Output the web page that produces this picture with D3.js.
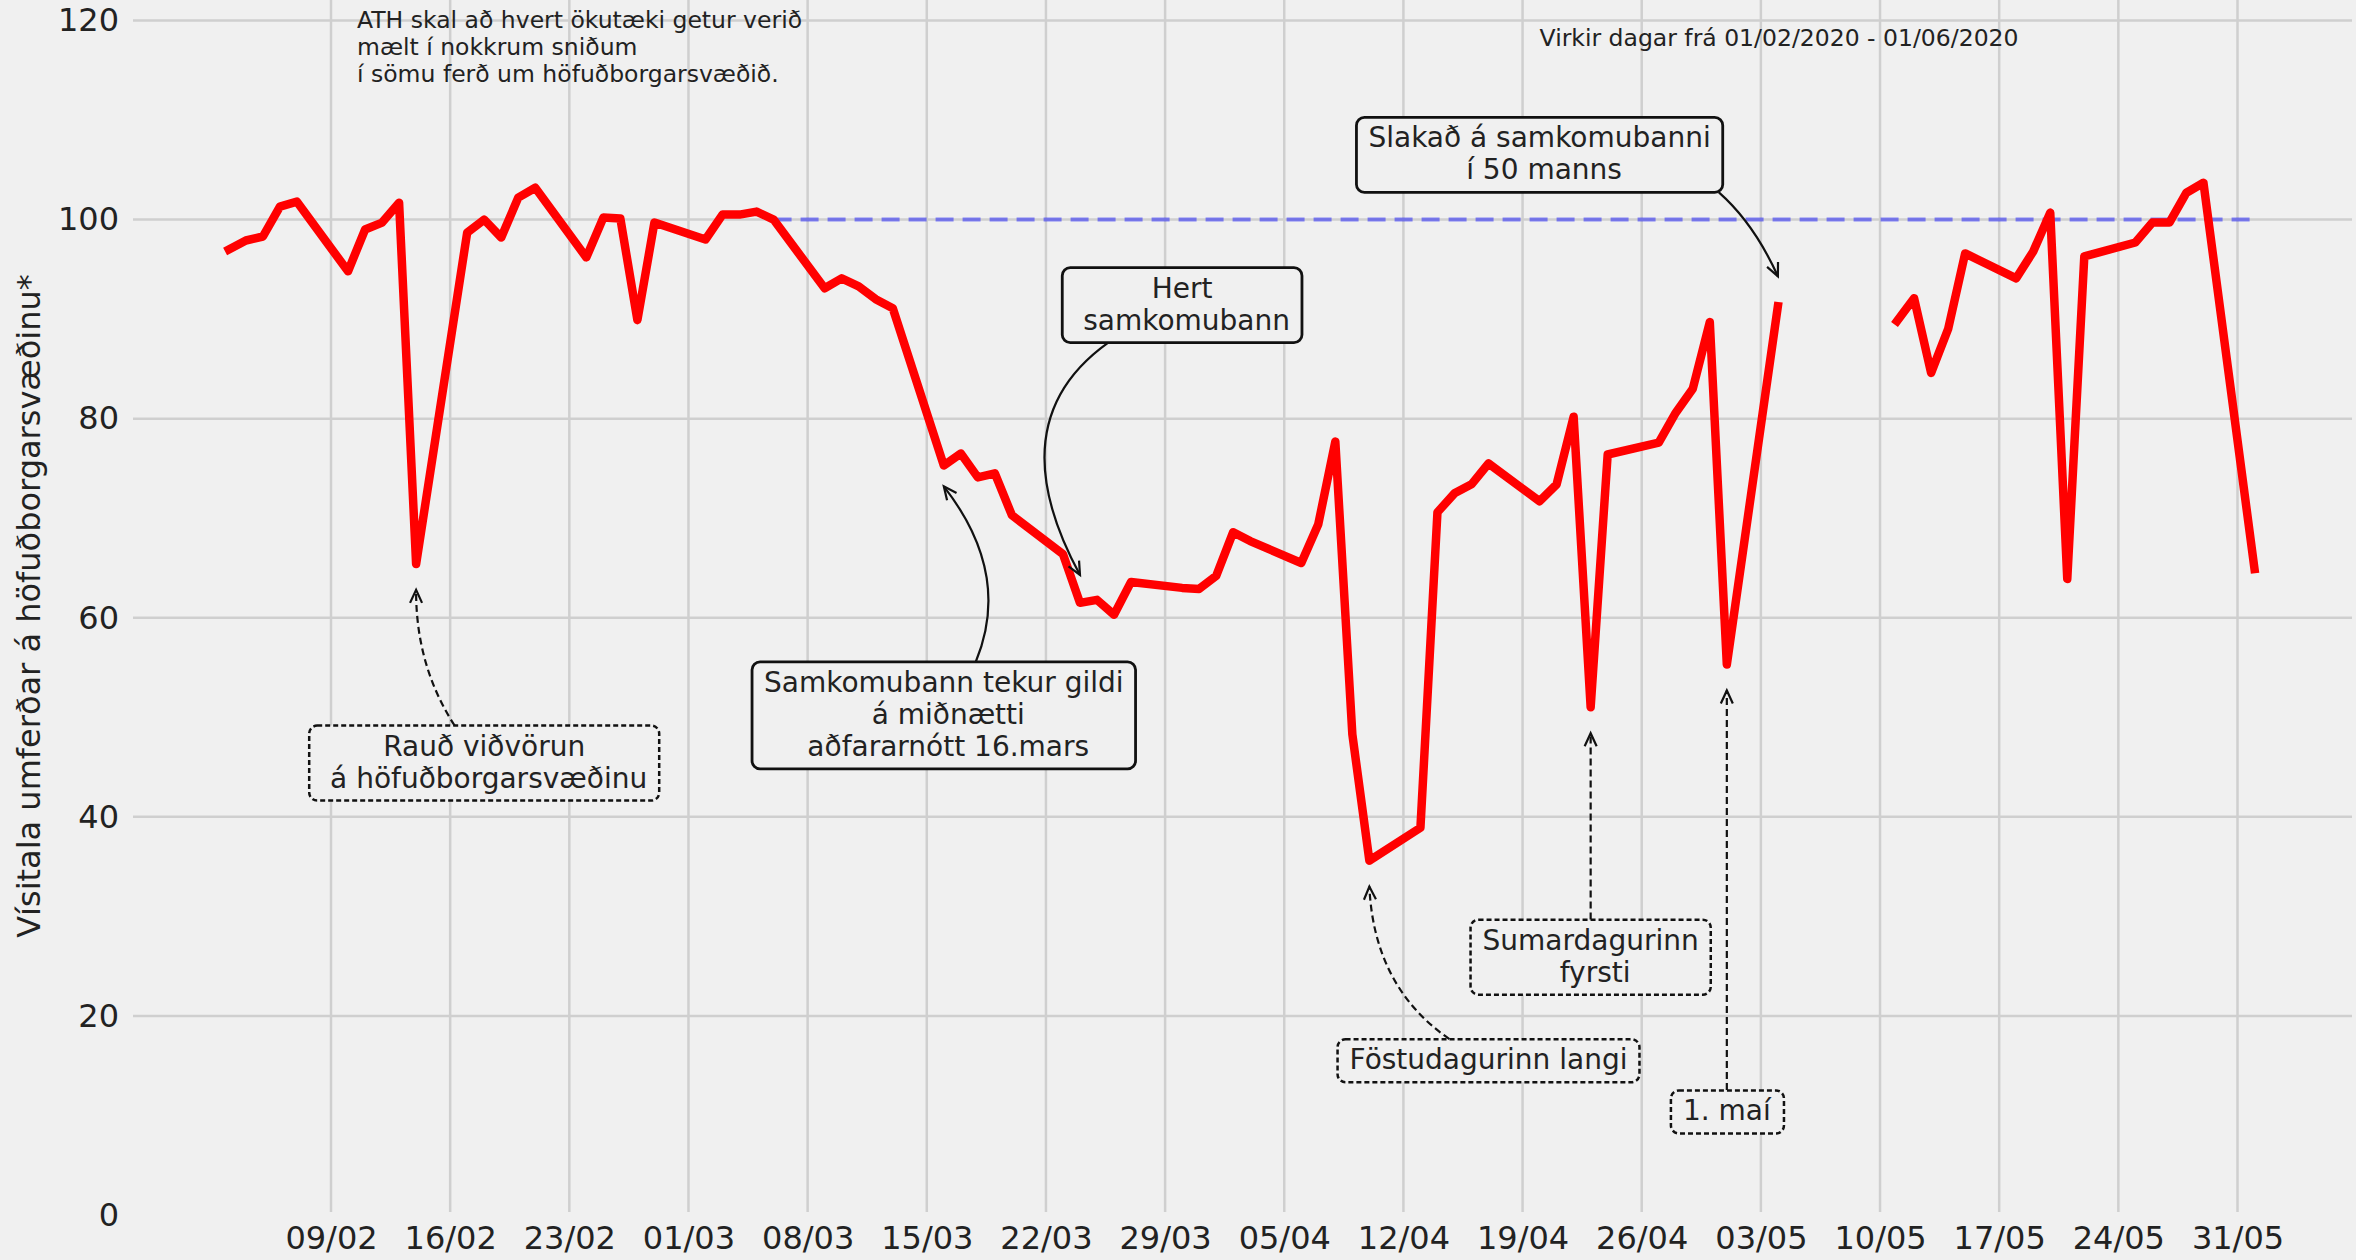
<!DOCTYPE html>
<html><head><meta charset="utf-8">
<script src="https://cdn.jsdelivr.net/npm/d3@7/dist/d3.min.js"></script>
<style>
html,body{margin:0;padding:0;background:#f0f0f0;}
svg{display:block;}
text{font-family:"DejaVu Sans",sans-serif;fill:#222;}
</style></head><body>
<svg id="chart" width="2356" height="1260"></svg>
<script>
// ---- data (weekdays, 2020) ----
const dates = [
 "2020-02-03","2020-02-04","2020-02-05","2020-02-06","2020-02-07",
 "2020-02-10","2020-02-11","2020-02-12","2020-02-13","2020-02-14",
 "2020-02-17","2020-02-18","2020-02-19","2020-02-20","2020-02-21",
 "2020-02-24","2020-02-25","2020-02-26","2020-02-27","2020-02-28",
 "2020-03-02","2020-03-03","2020-03-04","2020-03-05","2020-03-06",
 "2020-03-09","2020-03-10","2020-03-11","2020-03-12","2020-03-13",
 "2020-03-16","2020-03-17","2020-03-18","2020-03-19","2020-03-20",
 "2020-03-23","2020-03-24","2020-03-25","2020-03-26","2020-03-27",
 "2020-03-30","2020-03-31","2020-04-01","2020-04-02","2020-04-03",
 "2020-04-06","2020-04-07","2020-04-08","2020-04-09","2020-04-10",
 "2020-04-13","2020-04-14","2020-04-15","2020-04-16","2020-04-17",
 "2020-04-20","2020-04-21","2020-04-22","2020-04-23","2020-04-24",
 "2020-04-27","2020-04-28","2020-04-29","2020-04-30","2020-05-01",
 "2020-05-04","2020-05-05","2020-05-06","2020-05-07","2020-05-08",
 "2020-05-11","2020-05-12","2020-05-13","2020-05-14","2020-05-15",
 "2020-05-18","2020-05-19","2020-05-20","2020-05-21","2020-05-22",
 "2020-05-25","2020-05-26","2020-05-27","2020-05-28","2020-05-29",
 "2020-06-01"
];
const trafficIndex = [
 97.0, 97.9, 98.3, 101.3, 101.8,
 94.8, 99.0, 99.7, 101.7, 65.4,
 98.7, 100.0, 98.2, 102.2, 103.2,
 96.2, 100.2, 100.1, 89.9, 99.7,
 98.0, 100.5, 100.5, 100.8, 100.0,
 93.1, 94.1, 93.3, 92.0, 91.1,
 75.3, 76.5, 74.1, 74.5, 70.3,
 66.4, 61.5, 61.8, 60.3, 63.6,
 63.0, 62.9, 64.2, 68.6, 67.7,
 65.5, 69.4, 77.7, 48.3, 35.6,
 38.9, 70.6, 72.5, 73.4, 75.5,
 71.7, 73.4, 80.2, 51.0, 76.4,
 77.6, 80.6, 83.0, 89.7, 55.3,
 91.3, null, null, null, null,
 89.8, 92.1, 84.6, 89.0, 96.6,
 94.1, 96.8, 100.7, 63.9, 96.3,
 97.7, 99.7, 99.7, 102.7, 103.7,
 64.9
];
const referenceLevel = 100;
const referenceDates = ["2020-03-06","2020-06-01"];
const xTickDates = ["2020-02-09","2020-02-16","2020-02-23","2020-03-01","2020-03-08","2020-03-15",
 "2020-03-22","2020-03-29","2020-04-05","2020-04-12","2020-04-19","2020-04-26","2020-05-03",
 "2020-05-10","2020-05-17","2020-05-24","2020-05-31"];
const yTicks = [0,20,40,60,80,100,120];
const yLabel = "Vísitala umferðar á höfuðborgarsvæðinu*";
const noteLines = ["ATH skal að hvert ökutæki getur verið","mælt í nokkrum sniðum","í sömu ferð um höfuðborgarsvæðið."];
const noteAnchor = ["2020-02-10T12:40", 119.2];
const periodNote = "Virkir dagar frá 01/02/2020 - 01/06/2020";
const periodAnchor = ["2020-04-20", 117.4];
const annotations = [
 {lines:["Rauð viðvörun"," á höfuðborgarsvæðinu"], xy:["2020-02-14",62.8], xytext:["2020-02-18",45.4], dashed:true, rad:0.2},
 {lines:["Samkomubann tekur gildi"," á miðnætti"," aðfararnótt 16.mars"], xy:["2020-03-16",73.2], xytext:["2020-03-16",50.2], dashed:false, rad:-0.39},
 {lines:["Hert"," samkomubann"], xy:["2020-03-24",64.3], xytext:["2020-03-30",91.4], dashed:false, rad:-0.58},
 {lines:["Slakað á samkomubanni"," í 50 manns"], xy:["2020-05-04",94.3], xytext:["2020-04-20",106.5], dashed:false, rad:0.4},
 {lines:["Föstudagurinn langi"], xy:["2020-04-10",33.0], xytext:["2020-04-17",15.5], dashed:true, rad:0.31},
 {lines:["Sumardagurinn"," fyrsti"], xy:["2020-04-23",48.4], xytext:["2020-04-23",25.9], dashed:true, rad:0},
 {lines:["1. maí"], xy:["2020-05-01",52.7], xytext:["2020-05-01",10.35], dashed:true, rad:0}
];

// ---- layout ----
const W = 2356, H = 1260;
const plotLeft = 133, plotRight = 2352, plotTop = 0;
const parse = s => new Date(s + (s.length === 10 ? "T00:00:00Z" : ":00Z"));
const svg = d3.select("#chart");
svg.append("rect").attr("width", W).attr("height", H).attr("fill", "#f0f0f0");

const x = d3.scaleUtc().domain([parse("2020-02-09"), parse("2020-05-31")]).range([331, 2237.5]);
const y = d3.scaleLinear().domain([0, 120]).range([1215, 20.5]);

// grid
const grid = svg.append("g");
grid.selectAll("line.v").data(xTickDates.map(parse)).enter().append("line")
  .attr("x1", d => x(d)).attr("x2", d => x(d)).attr("y1", plotTop).attr("y2", y(0) - 3)
  .attr("stroke", "#cfcfcf").attr("stroke-width", 2.5);
grid.selectAll("line.h").data(yTicks.filter(v => v > 0)).enter().append("line")
  .attr("x1", plotLeft).attr("x2", plotRight).attr("y1", d => y(d)).attr("y2", d => y(d))
  .attr("stroke", "#cfcfcf").attr("stroke-width", 2.5);

// axes
const xAxis = svg.append("g").attr("transform", `translate(0,${y(0)})`)
  .call(d3.axisBottom(x).tickValues(xTickDates.map(parse)).tickFormat(d3.utcFormat("%d/%m")).tickSize(0).tickPadding(11));
const yAxis = svg.append("g").attr("transform", `translate(${plotLeft},0)`)
  .call(d3.axisLeft(y).tickValues(yTicks).tickSize(0).tickPadding(14));
[xAxis, yAxis].forEach(g => {
  g.select(".domain").remove();
  g.selectAll("text").attr("font-family", "DejaVu Sans").attr("font-size", 32).attr("fill", "#262626");
});

svg.append("text").attr("transform", `translate(40,606) rotate(-90)`)
  .attr("text-anchor", "middle").attr("font-size", 32).attr("fill", "#262626").text(yLabel);

// reference dashed line
svg.append("line")
  .attr("x1", x(parse(referenceDates[0]))).attr("x2", x(parse(referenceDates[1])))
  .attr("y1", y(referenceLevel)).attr("y2", y(referenceLevel))
  .attr("stroke", "rgba(0,0,255,0.45)").attr("stroke-width", 4).attr("stroke-dasharray", "18,9");

// data line
const series = dates.map((d, i) => ({date: parse(d), v: trafficIndex[i]}));
const line = d3.line().defined(d => d.v != null).x(d => x(d.date)).y(d => y(d.v));
svg.append("path").datum(series).attr("d", line)
  .attr("fill", "none").attr("stroke", "#ff0000").attr("stroke-width", 8.5)
  .attr("stroke-linejoin", "round").attr("stroke-linecap", "square");

// notes
const note = svg.append("text").attr("font-size", 23.5).attr("fill", "#222");
noteLines.forEach((t, i) => note.append("tspan").attr("x", x(parse(noteAnchor[0])))
  .attr("y", y(noteAnchor[1]) + i * 27).text(t));
svg.append("text").attr("font-size", 23.5).attr("fill", "#222")
  .attr("x", x(parse(periodAnchor[0]))).attr("y", y(periodAnchor[1])).text(periodNote);

// annotations
const FS = 28, LH = 32, PADX = 12;
annotations.forEach(a => {
  const P0 = [x(parse(a.xytext[0])), y(a.xytext[1])];
  const P2 = [x(parse(a.xy[0])), y(a.xy[1])];
  const n = a.lines.length;
  const base1 = P0[1] - (LH * (n - 1) - 17) / 2;
  const g = svg.append("g");
  const rect = g.append("rect");
  const txt = g.append("text").attr("font-size", FS).attr("text-anchor", "middle")
    .style("white-space", "pre").attr("fill", "#1a1a1a");
  a.lines.forEach((t, i) => txt.append("tspan").attr("x", P0[0]).attr("y", base1 + i * LH).text(t));
  const bb = txt.node().getBBox();
  const bx0 = bb.x - PADX, bx1 = bb.x + bb.width + PADX;
  const by0 = base1 - 30, by1 = base1 + LH * (n - 1) + 13;
  rect.attr("x", bx0).attr("y", by0).attr("width", bx1 - bx0).attr("height", by1 - by0)
    .attr("rx", 8).attr("fill", "#f0f0f0").attr("stroke", "#111")
    .attr("stroke-width", a.dashed ? 2.5 : 2.8)
    .attr("stroke-dasharray", a.dashed ? "5,3" : null);

  // arrow: quadratic arc from box centre to xy, clipped at box edge
  const dx = P2[0] - P0[0], dy = P2[1] - P0[1];
  const C = [(P0[0] + P2[0]) / 2 + a.rad * dy, (P0[1] + P2[1]) / 2 - a.rad * dx];
  const B = t => [(1-t)*(1-t)*P0[0] + 2*t*(1-t)*C[0] + t*t*P2[0], (1-t)*(1-t)*P0[1] + 2*t*(1-t)*C[1] + t*t*P2[1]];
  let t0 = 0;
  for (let t = 0; t <= 1; t += 0.001) {
    const p = B(t);
    if (p[0] < bx0 || p[0] > bx1 || p[1] < by0 || p[1] > by1) { t0 = t; break; }
  }
  const S = B(t0);
  const Q = [C[0] + (P2[0] - C[0]) * t0, C[1] + (P2[1] - C[1]) * t0];
  svg.append("path").attr("d", `M${S[0]},${S[1]} Q${Q[0]},${Q[1]} ${P2[0]},${P2[1]}`)
    .attr("fill", "none").attr("stroke", "#111").attr("stroke-width", 2.2)
    .attr("stroke-dasharray", a.dashed ? "7,4" : null);
  // head
  let tx = P2[0] - Q[0], ty = P2[1] - Q[1];
  const L = Math.hypot(tx, ty); tx /= L; ty /= L;
  const hl = 13, hw = 6;
  const h1 = [P2[0] - tx * hl - ty * hw, P2[1] - ty * hl + tx * hw];
  const h2 = [P2[0] - tx * hl + ty * hw, P2[1] - ty * hl - tx * hw];
  svg.append("path").attr("d", `M${h1[0]},${h1[1]} L${P2[0]},${P2[1]} L${h2[0]},${h2[1]}`)
    .attr("fill", "none").attr("stroke", "#111").attr("stroke-width", 2.2);
});
</script>
</body></html>
